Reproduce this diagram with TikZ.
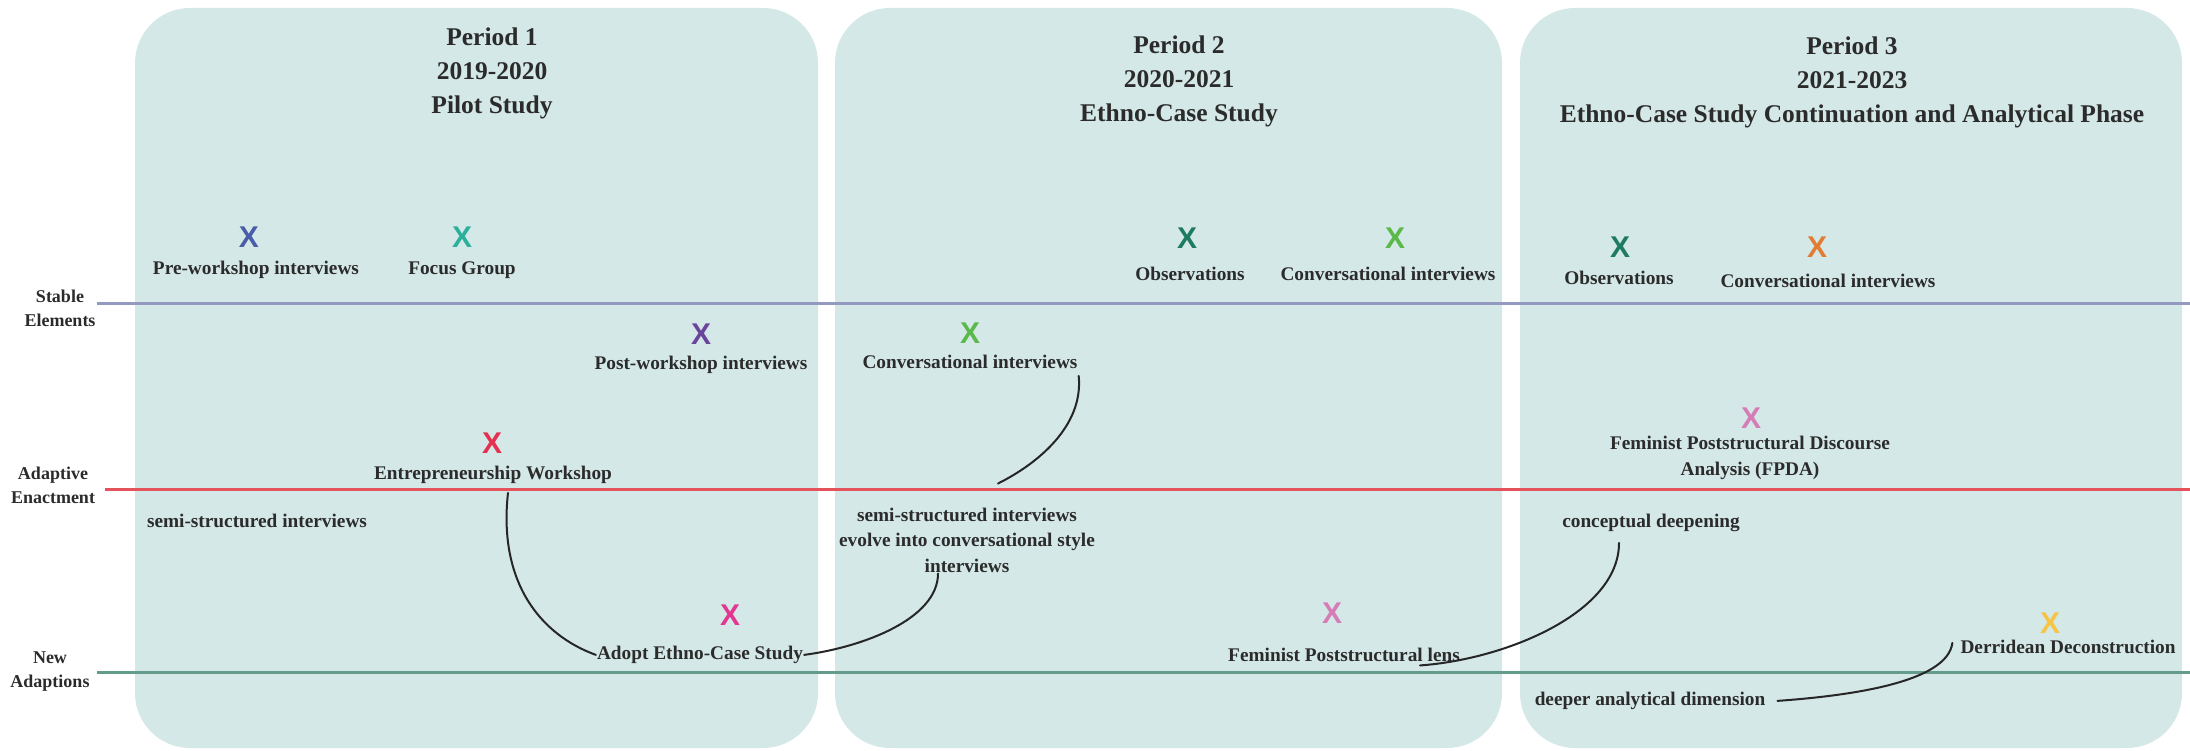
\documentclass[tikz,border=0pt]{standalone}
\usepackage{fontspec}
\setmainfont{Liberation Serif}
\newfontfamily\crossfont{Liberation Sans}
\usepackage{xcolor}
\usepackage{tikz}
\definecolor{tlpanel}{HTML}{D4E8E7}
\definecolor{tltext}{HTML}{2B2B2B}
\definecolor{tlstable}{HTML}{9499C2}
\definecolor{tladapt}{HTML}{E4525C}
\definecolor{tlnew}{HTML}{649C8C}
\definecolor{tlpre}{HTML}{4A5EA8}
\definecolor{tlfocus}{HTML}{2BB09C}
\definecolor{tlpost}{HTML}{6B449E}
\definecolor{tlwork}{HTML}{E5304F}
\definecolor{tladopt}{HTML}{E33690}
\definecolor{tlobs}{HTML}{1E7B62}
\definecolor{tlconv}{HTML}{5BB94B}
\definecolor{tlorange}{HTML}{E27C32}
\definecolor{tllens}{HTML}{D57DB6}
\definecolor{tlderr}{HTML}{F7C445}
\tikzset{
  period/.style={fill=tlpanel,rounded corners=55pt},
  ptitle/.style={font=\bfseries\fontsize{25.5}{34}\selectfont,text=tltext,align=center,inner sep=0pt},
  lane/.style={font=\bfseries\fontsize{18}{24.5}\selectfont,text=tltext,align=center,inner sep=1pt},
  laneline/.style={line width=3pt,draw=#1},
  elabel/.style={font=\bfseries\fontsize{19.3}{25.5}\selectfont,text=tltext,align=center,inner sep=1pt},
  xcross/.style={font=\crossfont\bfseries\fontsize{30}{30}\selectfont,text=#1,inner sep=0pt},
  link/.style={line width=2pt,draw=black!85,line cap=round}
}

\begin{document}
\begin{tikzpicture}[x=1pt,y=-1pt]
    \useasboundingbox (0,0) rectangle (2190,751);
    \fill[period] (135,8) rectangle (818,748);
    \fill[period] (835,8) rectangle (1502,748);
    \fill[period] (1520,8) rectangle (2182,748);
    \node[ptitle] (p1) at (492,73.5) {Period 1\\2019-2020\\Pilot Study};
    \node[ptitle] (p2) at (1179,81.5) {Period 2\\2020-2021\\Ethno-Case Study};
    \node[ptitle] (p3) at (1852,82.5) {Period 3\\2021-2023\\Ethno-Case Study Continuation and Analytical Phase};
    \node[lane] (stable) at (60,308.5) {Stable\\Elements};
    \node[lane] (adaptive) at (53,485.5) {Adaptive\\Enactment};
    \node[lane] (newad) at (50,671.5) {New\\Adaptions};
    \draw[laneline=tlstable] (97,304) -- (2190,304);
    \draw[laneline=tladapt] (105,489) -- (2190,489);
    \draw[laneline=tlnew] (97,672) -- (2190,672);
    \node[xcross=tlpre] (xpre) at (249,237) {X};
    \node[elabel,anchor=base] (pre) at (256,274.5) {Pre-workshop interviews};
    \node[xcross=tlfocus] (xfocus) at (462,237) {X};
    \node[elabel,anchor=base] (focus) at (462,274.5) {Focus Group};
    \node[xcross=tlpost] (xpost) at (701,334) {X};
    \node[elabel,anchor=base] (post) at (701,369.5) {Post-workshop interviews};
    \node[xcross=tlwork] (xwork) at (492,443) {X};
    \node[elabel,anchor=base] (work) at (493,479.5) {Entrepreneurship Workshop};
    \node[elabel,anchor=base] (semi) at (257,527.5) {semi-structured interviews};
    \node[xcross=tladopt] (xadopt) at (730,615) {X};
    \node[elabel,anchor=base] (adopt) at (700,659.5) {Adopt Ethno-Case Study};
    \node[xcross=tlobs] (xobs2) at (1187,238) {X};
    \node[elabel,anchor=base] (obs2) at (1190,280.5) {Observations};
    \node[xcross=tlconv] (xconv2) at (1395,238) {X};
    \node[elabel,anchor=base] (conv2) at (1388,280.5) {Conversational interviews};
    \node[xcross=tlconv] (xconv2b) at (970,333) {X};
    \node[elabel,anchor=base] (conv2b) at (970,368.5) {Conversational interviews};
    \node[elabel] (evolve) at (967,540) {semi-structured interviews\\evolve into conversational style\\interviews};
    \node[xcross=tllens] (xlens) at (1332,613) {X};
    \node[elabel,anchor=base] (lens) at (1344,661) {Feminist Poststructural lens};
    \node[xcross=tlobs] (xobs3) at (1620,247) {X};
    \node[elabel,anchor=base] (obs3) at (1619,284.5) {Observations};
    \node[xcross=tlorange] (xconv3) at (1817,247) {X};
    \node[elabel,anchor=base] (conv3) at (1828,287.5) {Conversational interviews};
    \node[xcross=tllens] (xfpda) at (1751,418) {X};
    \node[elabel] (fpda) at (1750,458) {Feminist Poststructural Discourse\\Analysis (FPDA)};
    \node[elabel,anchor=base] (deep) at (1651,527.5) {conceptual deepening};
    \node[xcross=tlderr] (xderr) at (2050,623) {X};
    \node[elabel,anchor=base] (derr) at (2068,653.5) {Derridean Deconstruction};
    \node[elabel,anchor=base] (dim) at (1650,705.5) {deeper analytical dimension};
    \draw[link] ([xshift=15pt,yshift=-8pt]work.south) .. controls +(-10,90) and +(-55,-20) .. (adopt.west);
    \draw[link] (adopt.east) .. controls +(60,-8) and +(0,45) .. ([xshift=-29pt]evolve.south);
    \draw[link] ([yshift=-6pt]conv2b.south east) .. controls +(5,50) and +(40,-20) .. ([xshift=31pt,yshift=23pt]evolve.north);
    \draw[link] ([xshift=-41pt,yshift=-3pt]lens.south east) .. controls +(85,-6) and +(0,70) .. ([xshift=-32pt,yshift=-10pt]deep.south);
    \draw[link] ([xshift=11pt]dim.east) .. controls +(70,-5) and +(-5,40) .. ([xshift=-7pt,yshift=4pt]derr.west);
  \end{tikzpicture}
\end{document}
